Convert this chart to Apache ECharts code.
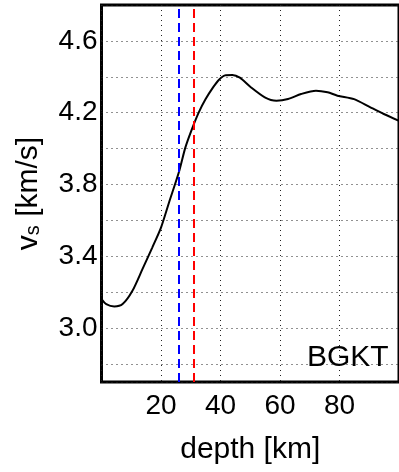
<!DOCTYPE html>
<html>
<head>
<meta charset="utf-8">
<script src="https://cdn.jsdelivr.net/npm/echarts@6/dist/echarts.min.js"></script>
<style>
  html, body { margin: 0; padding: 0; background: #fff; }
  #chart { width: 399px; height: 472px; }
</style>
</head>
<body>
<div id="chart"></div>
<script>
// shear-velocity profile
const depth = [0, 1.6, 4.3, 7.1, 10.4, 13.8, 17.1, 20, 22.7, 26, 28.2, 30.4, 32.7, 35, 37.5, 39.5, 41.5, 44, 46.5, 50, 54.9, 58.8, 62.7, 67.1, 72.1, 76, 79.3, 84.9, 90.4, 94.9, 100];
const vs = [3.162, 3.134, 3.121, 3.134, 3.208, 3.33, 3.45, 3.56, 3.70, 3.868, 4.007, 4.109, 4.202, 4.276, 4.341, 4.384, 4.408, 4.41, 4.395, 4.345, 4.286, 4.267, 4.276, 4.304, 4.323, 4.314, 4.295, 4.276, 4.23, 4.193, 4.155];
// vertical markers (depth, km)
const markerDepths = [26, 31];
const markerColors = ['#0000ff', '#ff0000'];
const stationName = 'BGKT';

const font = 'Liberation Sans, Arial, sans-serif';
const gridLine = {show: true, lineStyle: {color: '#222', width: 1, type: [1, 4]}};

const chart = echarts.init(document.getElementById('chart'), null, {renderer: 'canvas'});

chart.setOption({
	animation: false,
	title: {
		text: stationName,
		left: 302,
		top: 338,
		textStyle: {fontFamily: font, fontSize: 30, fontWeight: 'normal', color: '#000'},
	},
	grid: {
		left: 101.5, top: 5, width: 300, height: 377,
		show: true, borderColor: '#000', borderWidth: 3,
	},
	xAxis: {
		type: 'value',
		min: 0, max: 100, interval: 20,
		name: 'depth [km]',
		nameLocation: 'middle',
		nameGap: 53,
		nameTextStyle: {fontFamily: font, fontSize: 30, color: '#000'},
		axisLine: {show: false},
		axisTick: {show: false},
		axisLabel: {
			showMinLabel: false, showMaxLabel: false,
			margin: 10, fontFamily: font, fontSize: 28, color: '#000',
		},
		splitLine: gridLine,
	},
	yAxis: {
		type: 'value',
		min: 2.7, max: 4.8,
		minInterval: 0.2, maxInterval: 0.2,
		name: '{v|v}{s|s}{v| [km/s]}',
		nameLocation: 'middle',
		nameGap: 58,
		nameTextStyle: {
			rich: {
				v: {fontFamily: font, fontSize: 30, color: '#000', verticalAlign: 'bottom'},
				s: {fontFamily: font, fontSize: 20, color: '#000', verticalAlign: 'bottom'},
			},
		},
		axisLine: {show: false},
		axisTick: {show: false},
		axisLabel: {
			margin: 4, fontFamily: font, fontSize: 28, color: '#000',
			formatter: v => (Math.round(v * 10) % 4 === 2 ? v.toFixed(1) : ''),
		},
		splitLine: gridLine,
	},
	series: [
		{
			type: 'line',
			data: depth.map((d, i) => [d, vs[i]]),
			smooth: 0.25,
			showSymbol: false,
			lineStyle: {color: '#000', width: 2},
			markLine: {
				silent: true,
				symbol: 'none',
				label: {show: false},
				data: markerDepths.map((d, i) => ({
					xAxis: d,
					lineStyle: {color: markerColors[i], width: 2, type: [9, 5]},
				})),
			},
			z: 3,
		},
	],
});
</script>
</body>
</html>
